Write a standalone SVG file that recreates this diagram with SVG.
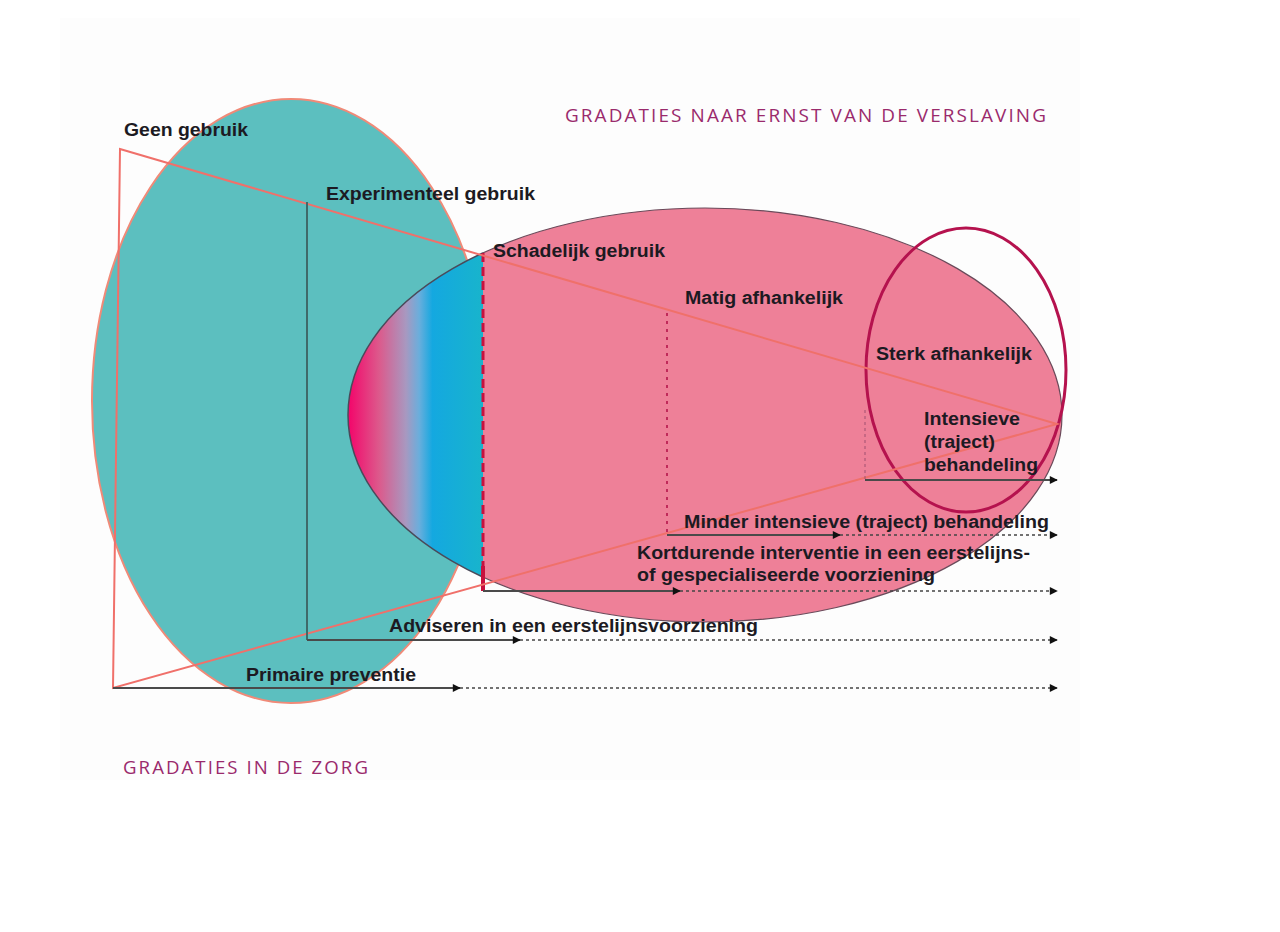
<svg xmlns="http://www.w3.org/2000/svg" width="1280" height="932" viewBox="0 0 1280 932">
  <defs>
    <style>
      .lbl { font-family: "Liberation Sans", Arial, sans-serif; font-weight: bold; font-size: 17.5px; fill: #1c1a22; }
      .hdr { font-family: "Open Sans", "Noto Sans", sans-serif; font-size: 18px; fill: #9a2a6c; letter-spacing: 2px; }
      .tri { stroke: #f0706a; stroke-width: 2; fill: none; }
      .solid { stroke: #4a4a4a; stroke-width: 2; fill: none; }
      .dot { stroke: #444; stroke-width: 1.3; stroke-dasharray: 3 3; fill: none; }
    </style>
    <linearGradient id="grad" gradientUnits="userSpaceOnUse" x1="350" y1="0" x2="483" y2="0">
      <stop offset="0" stop-color="#f20a6c"/>
      <stop offset="0.22" stop-color="#dc5a8c"/>
      <stop offset="0.42" stop-color="#a898c0"/>
      <stop offset="0.52" stop-color="#6aaedc"/>
      <stop offset="0.62" stop-color="#14a8e0"/>
      <stop offset="1" stop-color="#18b4cc"/>
    </linearGradient>
    <clipPath id="rightOf">
      <rect x="483" y="0" width="800" height="932"/>
    </clipPath>
    <clipPath id="leftOf">
      <rect x="0" y="0" width="483" height="932"/>
    </clipPath>
    <marker id="ah" viewBox="0 0 10 10" refX="9" refY="5" markerWidth="9" markerHeight="8" markerUnits="userSpaceOnUse" orient="auto">
      <path d="M0,0 L10,5 L0,10 z" fill="#111"/>
    </marker>
  </defs>

  <rect x="0" y="0" width="1280" height="932" fill="#ffffff"/>
  <rect x="60" y="18" width="1020" height="762" fill="#fdfdfd"/>

  <g id="teal-ellipse">
    <ellipse cx="291" cy="401" rx="199" ry="302" fill="#5cbfbf" stroke="#f08a78" stroke-width="2"/>
  </g>

  <g id="pink-ellipse">
    <ellipse cx="705" cy="415" rx="357" ry="207" fill="#ee8098" stroke="#6a4a5a" stroke-width="1.2" clip-path="url(#rightOf)"/>
    <ellipse cx="705" cy="415" rx="357" ry="207" fill="url(#grad)" stroke="#4a4a5a" stroke-width="1.5" clip-path="url(#leftOf)"/>
  </g>

  <g id="threshold">
    <line x1="483" y1="253" x2="483" y2="566" stroke="#c8103e" stroke-width="3" stroke-dasharray="9 5"/>
    <line x1="483" y1="566" x2="483" y2="591" stroke="#c8103e" stroke-width="4"/>
  </g>

  <g id="severe-ellipse">
    <ellipse cx="966" cy="370" rx="100" ry="142" fill="none" stroke="#b5124e" stroke-width="3"/>
  </g>

  <g id="connectors">
    <path class="tri" d="M120,149 L1057,424 L113,688 Z"/>
    <line x1="307" y1="202" x2="307" y2="640" stroke="#3f6a6a" stroke-width="2"/>
    <line x1="667" y1="313" x2="667" y2="535" stroke="#c02a5a" stroke-width="2" stroke-dasharray="3 5"/>
    <line x1="865" y1="410" x2="865" y2="479" stroke="#a05070" stroke-width="1" stroke-dasharray="3 3"/>

    <line class="solid" x1="865" y1="480" x2="1057" y2="480" marker-end="url(#ah)"/>

    <line class="solid" x1="667" y1="535" x2="840" y2="535" marker-end="url(#ah)"/>
    <line class="dot" x1="840" y1="535" x2="1057" y2="535" marker-end="url(#ah)"/>

    <line class="solid" x1="483" y1="591" x2="680" y2="591" marker-end="url(#ah)"/>
    <line class="dot" x1="680" y1="591" x2="1057" y2="591" marker-end="url(#ah)"/>

    <line class="solid" x1="307" y1="640" x2="520" y2="640" marker-end="url(#ah)"/>
    <line class="dot" x1="520" y1="640" x2="1057" y2="640" marker-end="url(#ah)"/>

    <line class="solid" x1="113" y1="688" x2="460" y2="688" marker-end="url(#ah)"/>
    <line class="dot" x1="460" y1="688" x2="1057" y2="688" marker-end="url(#ah)"/>
  </g>

  <g id="labels-severity">
    <text class="lbl" x="124" y="136" textLength="124" lengthAdjust="spacingAndGlyphs">Geen gebruik</text>
    <text class="lbl" x="326" y="200" textLength="209" lengthAdjust="spacingAndGlyphs">Experimenteel gebruik</text>
    <text class="lbl" x="493" y="257" textLength="172" lengthAdjust="spacingAndGlyphs">Schadelijk gebruik</text>
    <text class="lbl" x="685" y="304" textLength="158" lengthAdjust="spacingAndGlyphs">Matig afhankelijk</text>
    <text class="lbl" x="876" y="360" textLength="156" lengthAdjust="spacingAndGlyphs">Sterk afhankelijk</text>
  </g>

  <g id="labels-care">
    <text class="lbl" x="924" y="425" textLength="96" lengthAdjust="spacingAndGlyphs">Intensieve</text>
    <text class="lbl" x="924" y="448" textLength="71" lengthAdjust="spacingAndGlyphs">(traject)</text>
    <text class="lbl" x="924" y="471" textLength="114" lengthAdjust="spacingAndGlyphs">behandeling</text>
    <text class="lbl" x="684" y="528" textLength="365" lengthAdjust="spacingAndGlyphs">Minder intensieve (traject) behandeling</text>
    <text class="lbl" x="637" y="559" textLength="393" lengthAdjust="spacingAndGlyphs">Kortdurende interventie in een eerstelijns-</text>
    <text class="lbl" x="637" y="581" textLength="298" lengthAdjust="spacingAndGlyphs">of gespecialiseerde voorziening</text>
    <text class="lbl" x="389" y="632" textLength="369" lengthAdjust="spacingAndGlyphs">Adviseren in een eerstelijnsvoorziening</text>
    <text class="lbl" x="246" y="681" textLength="170" lengthAdjust="spacingAndGlyphs">Primaire preventie</text>
  </g>

  <g id="headers">
    <text class="hdr" x="565" y="122" textLength="483" lengthAdjust="spacingAndGlyphs">GRADATIES NAAR ERNST VAN DE VERSLAVING</text>
    <text class="hdr" x="123" y="774" textLength="247" lengthAdjust="spacingAndGlyphs">GRADATIES IN DE ZORG</text>
  </g>
</svg>
